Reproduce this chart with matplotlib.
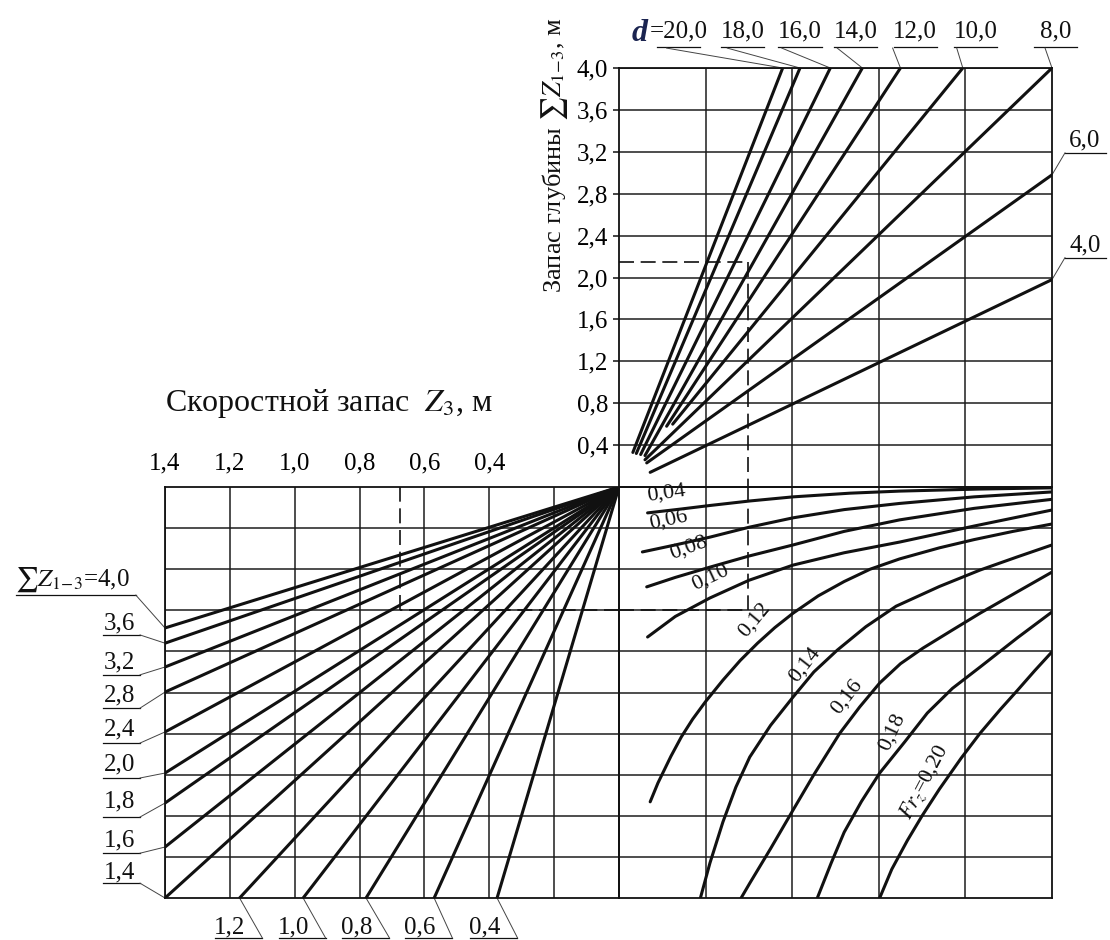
import matplotlib.pyplot as plt

plt.rcParams['font.family'] = ['Liberation Serif', 'DejaVu Serif']
plt.rcParams['mathtext.fontset'] = 'stix'

# --- top-right quadrant: depth reserve vs draught d (straight lines) ---
d_values = [20.0, 18.0, 16.0, 14.0, 12.0, 10.0, 8.0, 6.0, 4.0]
d_x0 = [0.16, 0.20, 0.25, 0.30, 0.55, 0.62, 0.30, 0.32, 0.36]
d_v0 = [0.33, 0.32, 0.31, 0.30, 0.58, 0.60, 0.26, 0.23, 0.14]
d_x1 = [1.89, 2.09, 2.44, 2.81, 3.25, 3.97, 5.00, 5.00, 5.00]
d_v1 = [4.00, 4.00, 4.00, 4.00, 4.00, 4.00, 4.00, 2.98, 1.98]
depth_ticks = [0.4, 0.8, 1.2, 1.6, 2.0, 2.4, 2.8, 3.2, 3.6, 4.0]

# label placement for d (top row and right side)
d_top_lab_x = [0.69, 1.43, 2.09, 2.73, 3.42, 4.12, 5.04]
d_top_lead_x = [0.55, 1.25, 1.88, 2.52, 3.16, 3.90, 4.92]

# --- bottom-left quadrant: speed reserve Z3 vs sum Z1-3 ---
sumz_values = [4.0, 3.6, 3.2, 2.8, 2.4, 2.0, 1.8, 1.6, 1.4]
sumz_end_r = [3.43, 3.80, 4.38, 4.99, 5.96, 6.96, 7.69, 8.76, 10.0]
sumz_lab_r = [2.26, 3.31, 4.26, 5.06, 5.91, 6.76, 7.66, 8.59, 9.37]
sumz_ul_r = [2.63, 3.60, 4.57, 5.38, 6.23, 7.08, 8.03, 8.91, 9.64]
z3_values = [1.2, 1.0, 0.8, 0.6, 0.4]
z3_end_x = [1.17, 0.974, 0.78, 0.57, 0.376]
z3_lab_x = [1.20, 1.005, 0.808, 0.614, 0.413]
z3_ticks = [1.4, 1.2, 1.0, 0.8, 0.6, 0.4, 0.2]
z3_ticklabels = ["1,4", "1,2", "1,0", "0,8", "0,6", "0,4", ""]

# --- bottom-right quadrant: Froude number curves ---
fr_values = [0.04, 0.06, 0.08, 0.10, 0.12, 0.14, 0.16, 0.18, 0.20]
fr_x = [
    [0.33, 0.70, 1.05, 1.51, 2.01, 2.67, 3.24, 4.16, 5.00],
    [0.27, 0.65, 1.05, 1.50, 2.01, 2.60, 3.24, 4.10, 5.00],
    [0.32, 0.65, 1.05, 1.50, 2.01, 2.60, 3.24, 4.10, 5.00],
    [0.33, 0.65, 1.05, 1.50, 2.01, 2.60, 3.24, 4.10, 5.00],
    [0.36, 0.45, 0.60, 0.72, 0.85, 1.00, 1.20, 1.40, 1.60, 1.80, 2.01,
     2.30, 2.60, 2.90, 3.24, 3.70, 4.10, 4.55, 5.00],
    [0.94, 1.05, 1.20, 1.35, 1.51, 1.75, 2.01, 2.25, 2.52, 2.85, 3.20,
     3.70, 4.17, 4.60, 5.00],
    [1.41, 1.51, 1.75, 2.01, 2.25, 2.55, 2.78, 3.01, 3.25, 3.51, 3.85,
     4.17, 4.60, 5.00],
    [2.29, 2.45, 2.60, 2.80, 3.01, 3.30, 3.56, 3.85, 4.17, 4.60, 5.00],
    [3.01, 3.15, 3.33, 3.50, 3.70, 3.95, 4.17, 4.40, 4.60, 4.80, 5.00],
]
fr_r = [
    [0.63, 0.54, 0.45, 0.34, 0.24, 0.15, 0.10, 0.05, 0.02],
    [1.58, 1.41, 1.22, 0.98, 0.75, 0.55, 0.40, 0.24, 0.12],
    [2.43, 2.20, 1.95, 1.68, 1.41, 1.08, 0.80, 0.52, 0.30],
    [3.65, 3.15, 2.70, 2.27, 1.90, 1.60, 1.34, 0.95, 0.56],
    [7.66, 7.20, 6.55, 6.08, 5.65, 5.22, 4.70, 4.22, 3.80, 3.42, 3.07,
     2.65, 2.30, 2.00, 1.75, 1.48, 1.28, 1.08, 0.90],
    [10.0, 9.15, 8.15, 7.30, 6.57, 5.80, 5.11, 4.50, 3.97, 3.40, 2.90,
     2.42, 2.02, 1.70, 1.41],
    [10.0, 9.64, 8.80, 7.86, 7.00, 5.99, 5.35, 4.77, 4.30, 3.92, 3.48,
     3.07, 2.55, 2.07],
    [10.0, 9.15, 8.40, 7.65, 6.96, 6.20, 5.50, 4.90, 4.38, 3.67, 3.04],
    [10.0, 9.30, 8.60, 8.00, 7.35, 6.60, 5.99, 5.42, 4.95, 4.47, 4.01],
]
fr_labels = ["0,04", "0,06", "0,08", "0,10", "0,12", "0,14", "0,16", "0,18",
             r"$\mathit{Fr}_z$=0,20"]
fr_lab_x = [0.55, 0.57, 0.80, 1.05, 1.57, 2.15, 2.63, 3.15, 3.53]
fr_lab_r = [0.15, 0.80, 1.48, 2.21, 3.24, 4.33, 5.11, 5.96, 7.18]
fr_lab_rot = [8, 12, 20, 25, 50, 52, 52, 65, 62]

# example (dashed) path
ex_depth = 2.15
ex_col = 1.49
ex_row = 2.99
ex_z3 = 0.675


def fmt(v):
    return f"{v:.1f}".replace(".", ",")


INK = "#111111"
GRID = "#1c1c1c"
LW_GRID = 1.1
LW_CURVE = 2.2
LW_LEAD = 0.7
DASH = (0, (9, 4))
FS = 18

fig = plt.figure(figsize=(11.1, 9.4), dpi=100)
left_r = 619 / 1110
w_r = 433 / 1110
ax_tr = fig.add_axes([left_r, 1 - 487 / 940, w_r, 419 / 940])
ax_bl = fig.add_axes([165 / 1110, 1 - 898 / 940, 454 / 1110, 411 / 940])
ax_br = fig.add_axes([left_r, 1 - 898 / 940, w_r, 411 / 940])

for ax in (ax_tr, ax_bl, ax_br):
    ax.set_facecolor("none")
    for sp in ax.spines.values():
        sp.set_linewidth(1.3)
        sp.set_color(INK)
    ax.grid(True, color=GRID, linewidth=LW_GRID)
    ax.set_axisbelow(True)

# ---------------- top-right ----------------
ax_tr.set_xlim(0, 5)
ax_tr.set_ylim(0, 4)
ax_tr.set_xticks([1, 2, 3, 4])
ax_tr.set_xticklabels([])
ax_tr.tick_params(axis="x", length=0)
ax_tr.set_yticks(depth_ticks)
ax_tr.set_yticklabels([fmt(v) for v in depth_ticks], fontsize=FS)
ax_tr.tick_params(axis="y", length=4, width=1.1, pad=4, color=INK)

for x0, v0, x1, v1 in zip(d_x0, d_v0, d_x1, d_v1):
    ax_tr.plot([x0, x1], [v0, v1], color=INK, linewidth=LW_CURVE,
               solid_capstyle="round")

# d labels along the top
ax_tr.text(0.24, 4.33, "d", fontsize=23, fontstyle="italic", fontweight="bold",
           color="#1b2450", ha="center", va="center")
for i, (lx, lead_x) in enumerate(zip(d_top_lab_x, d_top_lead_x)):
    txt = fmt(d_values[i])
    if i == 0:
        txt = "=" + txt
    ax_tr.text(lx, 4.35, txt, fontsize=FS, ha="center", va="center", color=INK)
    ax_tr.plot([lx - 0.25, lx + 0.25], [4.20, 4.20], color=INK, linewidth=0.9,
               clip_on=False)
    ax_tr.plot([lead_x, d_x1[i]], [4.19, d_v1[i]], color="#444444",
               linewidth=LW_LEAD, clip_on=False)

# d labels on the right side
for i in (7, 8):
    lab_v = d_v1[i] + 0.33
    ax_tr.text(5.38, lab_v, fmt(d_values[i]), fontsize=FS, ha="center",
               va="center", color=INK)
    ax_tr.plot([5.15, 5.62], [lab_v - 0.12, lab_v - 0.12], color=INK,
               linewidth=0.9, clip_on=False)
    ax_tr.plot([5.15, 5.0], [lab_v - 0.12, d_v1[i]], color="#444444",
               linewidth=LW_LEAD, clip_on=False)

ax_tr.text(-0.74, 3.17, r"Запас глубины $\sum Z_{1\!-\!3}$, м", rotation=90,
           fontsize=19, ha="center", va="center", color=INK)

# dashed example path
ax_tr.plot([0, ex_col], [ex_depth, ex_depth], color=INK, linewidth=1.2,
           linestyle=DASH)
ax_tr.plot([ex_col, ex_col], [ex_depth, 0], color=INK, linewidth=1.2,
           linestyle=DASH)

# ---------------- bottom-left ----------------
ax_bl.set_xlim(1.4, 0)
ax_bl.set_ylim(10, 0)
ax_bl.xaxis.tick_top()
ax_bl.set_xticks(z3_ticks)
ax_bl.set_xticklabels(z3_ticklabels, fontsize=FS)
ax_bl.tick_params(axis="x", length=0, pad=9)
ax_bl.set_yticks([1, 2, 3, 4, 5, 6, 7, 8, 9])
ax_bl.set_yticklabels([])
ax_bl.tick_params(axis="y", length=0)

for r_end in sumz_end_r:
    ax_bl.plot([0, 1.4], [0, r_end], color=INK, linewidth=LW_CURVE,
               solid_capstyle="round")
for x_end in z3_end_x:
    ax_bl.plot([0, x_end], [0, 10], color=INK, linewidth=LW_CURVE,
               solid_capstyle="round")

# left labels for sum Z1-3
for i, (val, r_end, lr, ur) in enumerate(zip(sumz_values, sumz_end_r,
                                             sumz_lab_r, sumz_ul_r)):
    if i == 0:
        ax_bl.text(1.687, lr, r"$\sum Z_{1\!-\!3}$=4,0", fontsize=FS,
                   ha="center", va="center", color=INK)
        ax_bl.plot([1.86, 1.49], [ur, ur], color=INK, linewidth=0.9,
                   clip_on=False)
        ax_bl.plot([1.49, 1.4], [ur, r_end], color="#444444",
                   linewidth=LW_LEAD, clip_on=False)
    else:
        ax_bl.text(1.539, lr, fmt(val), fontsize=FS, ha="center",
                   va="center", color=INK)
        ax_bl.plot([1.59, 1.477], [ur, ur], color=INK, linewidth=0.9,
                   clip_on=False)
        ax_bl.plot([1.477, 1.4], [ur, r_end], color="#444444",
                   linewidth=LW_LEAD, clip_on=False)

# bottom labels for Z3 lines
for val, x_end, lx in zip(z3_values, z3_end_x, z3_lab_x):
    ax_bl.text(lx, 10.72, fmt(val), fontsize=FS, ha="center", va="center",
               color=INK)
    ax_bl.plot([lx + 0.045, lx - 0.10], [10.97, 10.97], color=INK,
               linewidth=0.9, clip_on=False)
    ax_bl.plot([x_end, lx - 0.10], [10, 10.97], color="#444444",
               linewidth=LW_LEAD, clip_on=False)

ax_bl.text(1.4, -2.04, r"Скоростной запас  $Z_3$, м", fontsize=23,
           ha="left", va="center", color=INK)

ax_bl.plot([0, ex_z3], [ex_row, ex_row], color=INK, linewidth=1.2,
           linestyle=DASH)
ax_bl.plot([ex_z3, ex_z3], [ex_row, 0], color=INK, linewidth=1.2,
           linestyle=DASH)

# ---------------- bottom-right ----------------
ax_br.set_xlim(0, 5)
ax_br.set_ylim(10, 0)
ax_br.set_xticks([1, 2, 3, 4])
ax_br.set_xticklabels([])
ax_br.set_yticks([1, 2, 3, 4, 5, 6, 7, 8, 9])
ax_br.set_yticklabels([])
ax_br.tick_params(length=0)

for xs, rs in zip(fr_x, fr_r):
    ax_br.plot(xs, rs, color=INK, linewidth=LW_CURVE, solid_capstyle="round",
               solid_joinstyle="round")

for lab, lx, lr, rot in zip(fr_labels, fr_lab_x, fr_lab_r, fr_lab_rot):
    ax_br.text(lx, lr, lab, fontsize=16, rotation=rot, rotation_mode="anchor",
               ha="center", va="center", color=INK)

ax_br.plot([ex_col, ex_col], [0, ex_row], color=INK, linewidth=1.2,
           linestyle=DASH)
ax_br.plot([0, ex_col], [ex_row, ex_row], color=INK, linewidth=1.2,
           linestyle=DASH)

fig.savefig("out.png", dpi=100)
